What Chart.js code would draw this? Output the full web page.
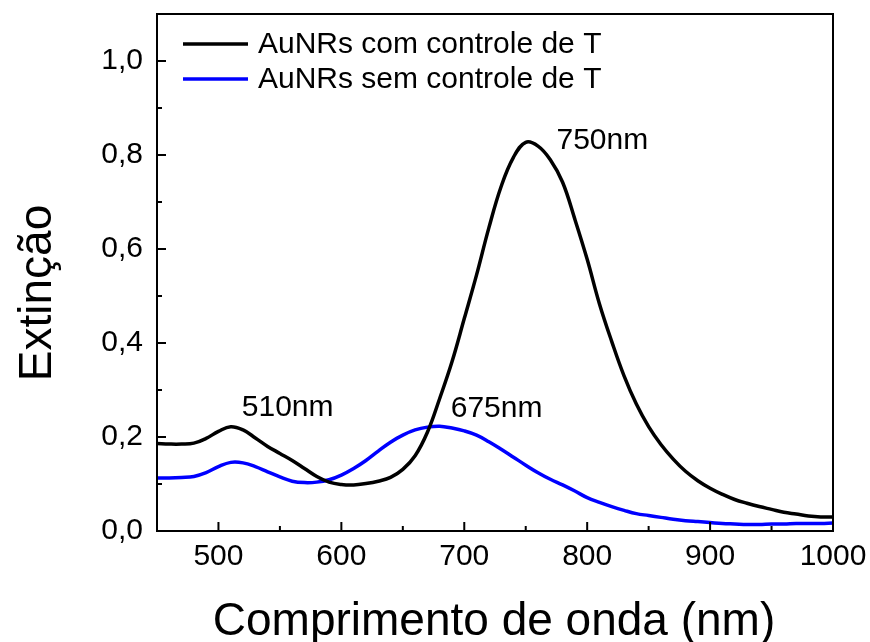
<!DOCTYPE html>
<html>
<head>
<meta charset="utf-8">
<script src="https://cdn.jsdelivr.net/npm/chart.js@4"></script>
<style>
  html, body { margin: 0; padding: 0; background: #fff; }
  #wrap { width: 870px; height: 642px; }
</style>
</head>
<body>
<div id="wrap"><canvas id="extincao"></canvas></div>
<script>
// comprimento de onda (nm)
const wavelength = [450, 460, 470, 480, 490, 500, 510, 520, 530, 540, 550, 560, 570, 580, 590, 600,
  610, 620, 630, 640, 650, 660, 670, 680, 690, 700, 710, 720, 730, 740, 750, 760, 770, 780, 790, 800,
  810, 820, 830, 840, 850, 860, 870, 880, 890, 900, 910, 920, 930, 940, 950, 960, 970, 980, 990, 1000];

const comControle = [0.186, 0.185, 0.185, 0.187, 0.197, 0.212, 0.222, 0.215, 0.198, 0.180, 0.165, 0.150,
  0.133, 0.116, 0.104, 0.099, 0.098, 0.101, 0.106, 0.114, 0.131, 0.160, 0.210, 0.282, 0.360, 0.452,
  0.545, 0.645, 0.733, 0.795, 0.827, 0.819, 0.790, 0.742, 0.663, 0.578, 0.483, 0.403, 0.330, 0.270,
  0.222, 0.184, 0.153, 0.127, 0.107, 0.091, 0.078, 0.067, 0.059, 0.052, 0.046, 0.040, 0.036, 0.032,
  0.030, 0.030];

const semControle = [0.113, 0.113, 0.114, 0.116, 0.124, 0.137, 0.146, 0.145, 0.137, 0.126, 0.115, 0.106,
  0.103, 0.104, 0.109, 0.119, 0.133, 0.150, 0.170, 0.189, 0.204, 0.215, 0.221, 0.223, 0.219, 0.213,
  0.204, 0.190, 0.174, 0.157, 0.140, 0.124, 0.110, 0.098, 0.085, 0.071, 0.061, 0.052, 0.044, 0.037,
  0.033, 0.029, 0.025, 0.022, 0.020, 0.018, 0.016, 0.015, 0.014, 0.014, 0.015, 0.015, 0.016, 0.016,
  0.016, 0.017];

const seriesLabels = ['AuNRs com controle de T', 'AuNRs sem controle de T'];
const xTicks = [500, 600, 700, 800, 900, 1000];
const xMinor = [450, 550, 650, 750, 850, 950];
const yTicks = [0, 0.2, 0.4, 0.6, 0.8, 1.0];
const yMinor = [0.1, 0.3, 0.5, 0.7, 0.9];

// rotulos dos picos, em coordenadas de dados
const peakText = ['510nm', '675nm', '750nm'];
const peakTextX = [519, 689, 775];
const peakTextY = [0.263, 0.261, 0.831];

const FONT = '"Liberation Sans", Arial, sans-serif';

function toPoints(ys) {
  return wavelength.map((x, i) => ({ x: x, y: ys[i] }));
}

const moldura = {
  id: 'moldura',
  afterDraw(chart) {
    const ctx = chart.ctx;
    const a = chart.chartArea;
    const xs = chart.scales.x;
    const ys = chart.scales.y;
    ctx.save();
    ctx.strokeStyle = '#000';
    ctx.lineWidth = 2;
    ctx.strokeRect(a.left, a.top, a.right - a.left, a.bottom - a.top);

    // ticks para dentro
    ctx.beginPath();
    for (const v of xTicks) {
      const p = xs.getPixelForValue(v);
      ctx.moveTo(p, a.bottom); ctx.lineTo(p, a.bottom - 9);
    }
    for (const v of xMinor) {
      const p = xs.getPixelForValue(v);
      ctx.moveTo(p, a.bottom); ctx.lineTo(p, a.bottom - 5);
    }
    for (const v of yTicks) {
      const p = ys.getPixelForValue(v);
      ctx.moveTo(a.left, p); ctx.lineTo(a.left + 9, p);
    }
    for (const v of yMinor) {
      const p = ys.getPixelForValue(v);
      ctx.moveTo(a.left, p); ctx.lineTo(a.left + 5, p);
    }
    ctx.stroke();

    // legenda
    ctx.textBaseline = 'middle';
    ctx.textAlign = 'left';
    ctx.font = '30px ' + FONT;
    chart.data.datasets.forEach((ds, i) => {
      const y = 44 + i * 35;
      ctx.strokeStyle = ds.borderColor;
      ctx.lineWidth = 3.5;
      ctx.beginPath();
      ctx.moveTo(183, y); ctx.lineTo(248, y);
      ctx.stroke();
      ctx.fillStyle = '#000';
      ctx.fillText(ds.label, 258, y + 1);
    });

    // picos
    ctx.font = '30px ' + FONT;
    peakText.forEach((t, i) => {
      ctx.fillText(t, xs.getPixelForValue(peakTextX[i]), ys.getPixelForValue(peakTextY[i]));
    });

    // titulos dos eixos
    ctx.font = '46px ' + FONT;
    ctx.textAlign = 'center';
    ctx.textBaseline = 'alphabetic';
    ctx.fillText('Comprimento de onda (nm)', 494, 635);
    ctx.save();
    ctx.translate(51, 293);
    ctx.rotate(-Math.PI / 2);
    ctx.fillText('Extinção', 0, 0);
    ctx.restore();
    ctx.restore();
  }
};

new Chart(document.getElementById('extincao'), {
  type: 'line',
  data: {
    datasets: [{
      label: seriesLabels[0],
      data: toPoints(comControle),
      borderColor: '#000000',
      borderWidth: 3.5,
      pointRadius: 0,
      tension: 0.4
    }, {
      label: seriesLabels[1],
      data: toPoints(semControle),
      borderColor: '#0000ff',
      borderWidth: 3.5,
      pointRadius: 0,
      tension: 0.4
    }]
  },
  options: {
    responsive: true,
    maintainAspectRatio: false,
    animation: false,
    layout: { padding: { top: 14, right: 37, left: 0, bottom: 0 } },
    plugins: {
      legend: { display: false },
      tooltip: { enabled: false }
    },
    scales: {
      x: {
        type: 'linear',
        min: 450,
        max: 1000,
        afterBuildTicks: s => { s.ticks = xTicks.map(v => ({ value: v })); },
        afterFit: s => { s.height = 111; s.paddingLeft = 0; s.paddingRight = 0; },
        grid: { display: false, drawTicks: false },
        border: { display: false },
        ticks: {
          color: '#000', padding: 8, maxRotation: 0,
          font: { family: FONT, size: 30 },
          callback: v => String(v)
        }
      },
      y: {
        min: 0,
        max: 1.1,
        afterBuildTicks: s => { s.ticks = yTicks.map(v => ({ value: v })); },
        afterFit: s => { s.width = 157; s.paddingTop = 0; s.paddingBottom = 0; },
        grid: { display: false, drawTicks: false },
        border: { display: false },
        ticks: {
          color: '#000',
          padding: 14,
          font: { family: FONT, size: 30 },
          callback: v => v.toFixed(1).replace('.', ',')
        }
      }
    }
  },
  plugins: [moldura]
});
</script>
</body>
</html>
